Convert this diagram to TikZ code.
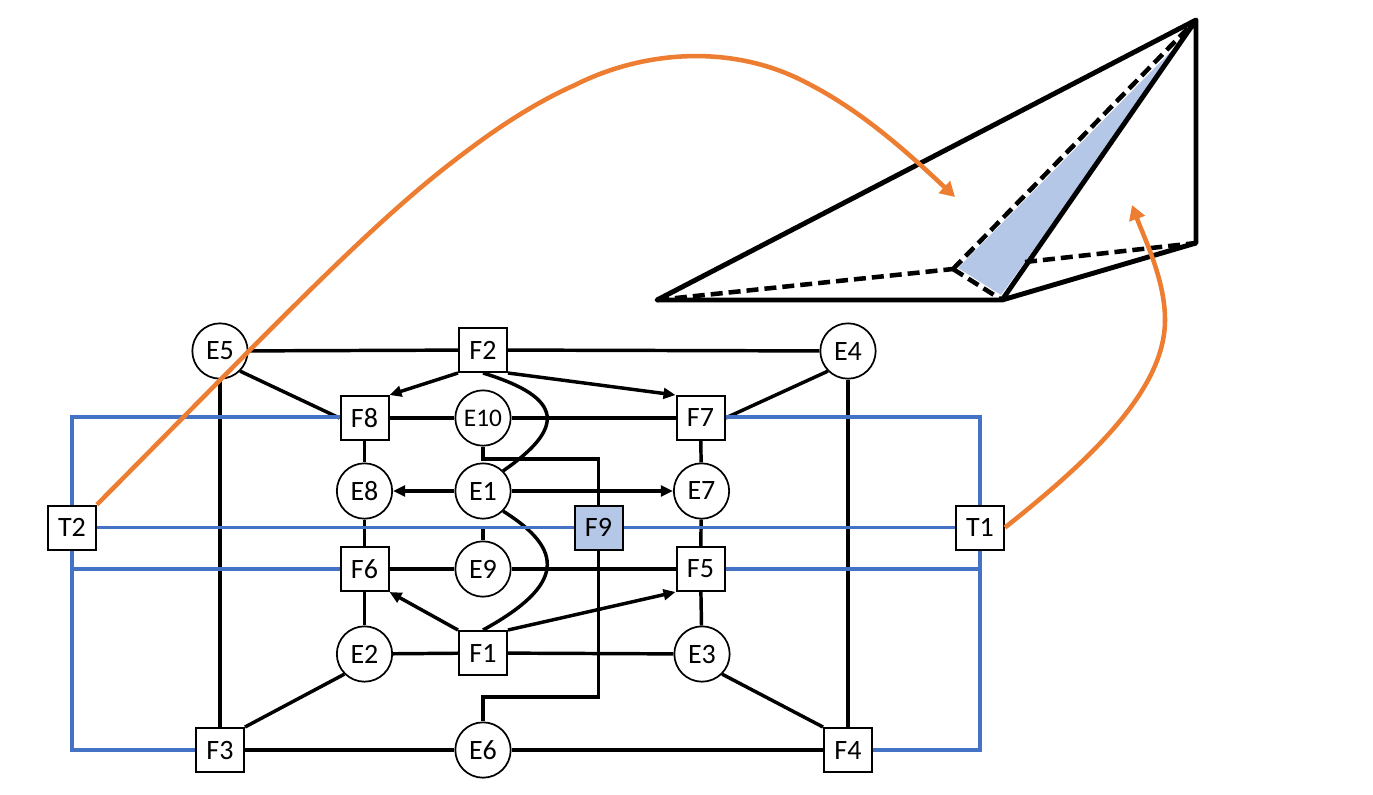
\documentclass[tikz,border=0pt]{standalone}
\usepackage{fontspec}
\setmainfont{Carlito}
\usetikzlibrary{arrows.meta}

\tikzset{
facenode/.style={draw,fill=white,line width=1.5pt,minimum width=36pt,minimum height=33pt,inner sep=0pt,font=\fontsize{21}{21}\selectfont},
edgenode/.style={draw,circle,fill=white,line width=1.3pt,minimum size=41.5pt,inner sep=0pt,font=\fontsize{21}{21}\selectfont},
link/.style={line width=2.6pt},
linkarrow/.style={link,-{Triangle[length=9pt,width=8pt]}},
bluelink/.style={color={rgb, 255:red, 68; green, 114; blue, 196 },line width=2.4pt},
orangecurve/.style={color={rgb, 255:red, 237; green, 125; blue, 49 },line width=3.4pt,-{Triangle[length=11pt,width=12pt]}},
solidedge/.style={line width=3.7pt,line join=round},
hiddenedge/.style={line width=3.4pt,dash pattern={on 9pt off 4.5pt}}
}

\begin{document}
\begin{tikzpicture}[x=0.75pt,y=0.75pt,yscale=-1,xscale=1]
\useasboundingbox (0,0) rectangle (1373,794);

% Face nodes
\node [facenode] (F1) at (483,653) {F1};
\node [facenode] (F2) at (483,350) {F2};
\node [facenode] (F3) at (220,750) {F3};
\node [facenode] (F4) at (848,750) {F4};
\node [facenode] (F5) at (700.5,569) {F5};
\node [facenode] (F6) at (364.5,569) {F6};
\node [facenode] (F7) at (700.5,418) {F7};
\node [facenode] (F8) at (364.5,418) {F8};
\node [facenode,fill={rgb, 255:red, 180; green, 199; blue, 231 }] (F9) at (598.5,527.5) {F9};
\node [facenode] (T1) at (980,527.5) {T1};
\node [facenode] (T2) at (72,527.5) {T2};

% Edge nodes
\node [edgenode] (E1) at (483,491) {E1};
\node [edgenode] (E2) at (364.5,654) {E2};
\node [edgenode] (E3) at (702,654) {E3};
\node [edgenode] (E4) at (848,351) {E4};
\node [edgenode] (E5) at (220,351) {E5};
\node [edgenode] (E6) at (483,750) {E6};
\node [edgenode] (E7) at (701.5,491) {E7};
\node [edgenode] (E8) at (364.5,491) {E8};
\node [edgenode] (E9) at (483,569) {E9};
\node [edgenode,font=\fontsize{19}{19}\selectfont] (E10) at (483,418) {E10};

% Bend points
\coordinate (bendA) at (483,459);
\coordinate (bendB) at (598.5,459);
\coordinate (bendC) at (598.5,697);
\coordinate (bendD) at (483,697);
\coordinate (stubE9) at (483,527.5);
\coordinate (blueTL) at (72,417);
\coordinate (blueML) at (72,569);
\coordinate (blueBL) at (72,750);
\coordinate (blueTR) at (980,417);
\coordinate (blueMR) at (980,569);
\coordinate (blueBR) at (980,750);

% Outer frame
\draw [link] (E5) -- (F2);
\draw [link] (F2) -- (E4);
\draw [link] (E5.south east) -- (F8.west);
\draw [link] (E4.south west) -- (F7.east);
\draw [link] (E5) -- (F3);
\draw [link] (E4) -- (F4);
\draw [link] (F3) -- (E6);
\draw [link] (E6) -- (F4);
\draw [link] (F3.north east) -- (E2.south west);
\draw [link] (F4.north west) -- (E3.south east);
\draw [link] (E2) -- (F1);
\draw [link] (F1) -- (E3);

% Inner columns and rows
\draw [link] (F8) -- (E8);
\draw [link] (E8) -- (F6);
\draw [link] (F6) -- (E2);
\draw [link] (F7) -- (E7);
\draw [link] (E7) -- (F5);
\draw [link] (F5) -- (E3);
\draw [link] (F8) -- (E10);
\draw [link] (E10) -- (F7);
\draw [link] (F6) -- (E9);
\draw [link] (E9) -- (F5);
\draw [link] (E9) -- (stubE9);

% Routed links through F9
\draw [link] (E10) -- (bendA) -- (bendB) -- (F9);
\draw [link] (F9) -- (bendC) -- (bendD) -- (E6);

% Arrows
\draw [linkarrow] (F2.south west) -- (F8.north east);
\draw [linkarrow] (F2.south east) -- (F7.north west);
\draw [linkarrow] (E1) -- (E8);
\draw [linkarrow] (E1) -- (E7);
\draw [linkarrow] (F1.north west) -- (F6.south east);
\draw [linkarrow] (F1.north east) -- (F5.south west);

% Curve Lines
\draw [link] (F2.south) .. controls (565,398) and (565,428) .. (E1.north east);
\draw [link] (E1.south east) .. controls (565,550) and (565,585) .. (F1.north);

% Blue loops
\draw [bluelink] (T2) -- (F9);
\draw [bluelink] (F9) -- (T1);
\draw [bluelink] (T2) -- (blueTL) -- (F8.west |- blueTL);
\draw [bluelink] (T2) -- (blueML) -- (F6);
\draw [bluelink] (T2) -- (blueBL) -- (F3);
\draw [bluelink] (T1) -- (blueTR) -- (F7.east |- blueTR);
\draw [bluelink] (T1) -- (blueMR) -- (F5);
\draw [bluelink] (T1) -- (blueBR) -- (F4);

% Wedge
\fill [fill={rgb, 255:red, 180; green, 199; blue, 231 }] (958,268) -- (1001,295) -- (1192,30) -- cycle;
\coordinate (apex) at (1196,20);
\coordinate (leftpt) at (657,300);
\coordinate (frontpt) at (1002,300);
\coordinate (backpt) at (1196,243);
\coordinate (innerpt) at (953,269);
\coordinate (hidden) at (1025,262);
\draw [hiddenedge] (leftpt) -- (innerpt);
\draw [hiddenedge] (innerpt) -- (frontpt);
\draw [hiddenedge] (innerpt) -- (apex);
\draw [hiddenedge] (hidden) -- (backpt);
\draw [solidedge] (frontpt) -- (leftpt) -- (apex) -- (backpt) -- (frontpt) -- (apex);

% Orange leaders
\draw [orangecurve] (T2.north east) .. controls (280,320) and (370,225) .. (455,160) .. controls (490,133) and (530,105) .. (575,85) .. controls (640,52) and (730,42) .. (807,83) .. controls (860,110) and (905,150) .. (955,197);
\draw [orangecurve] (T1.east) .. controls (1090,460) and (1165,390) .. (1165,320) .. controls (1165,280) and (1145,240) .. (1132,205);

\end{tikzpicture}
\end{document}
